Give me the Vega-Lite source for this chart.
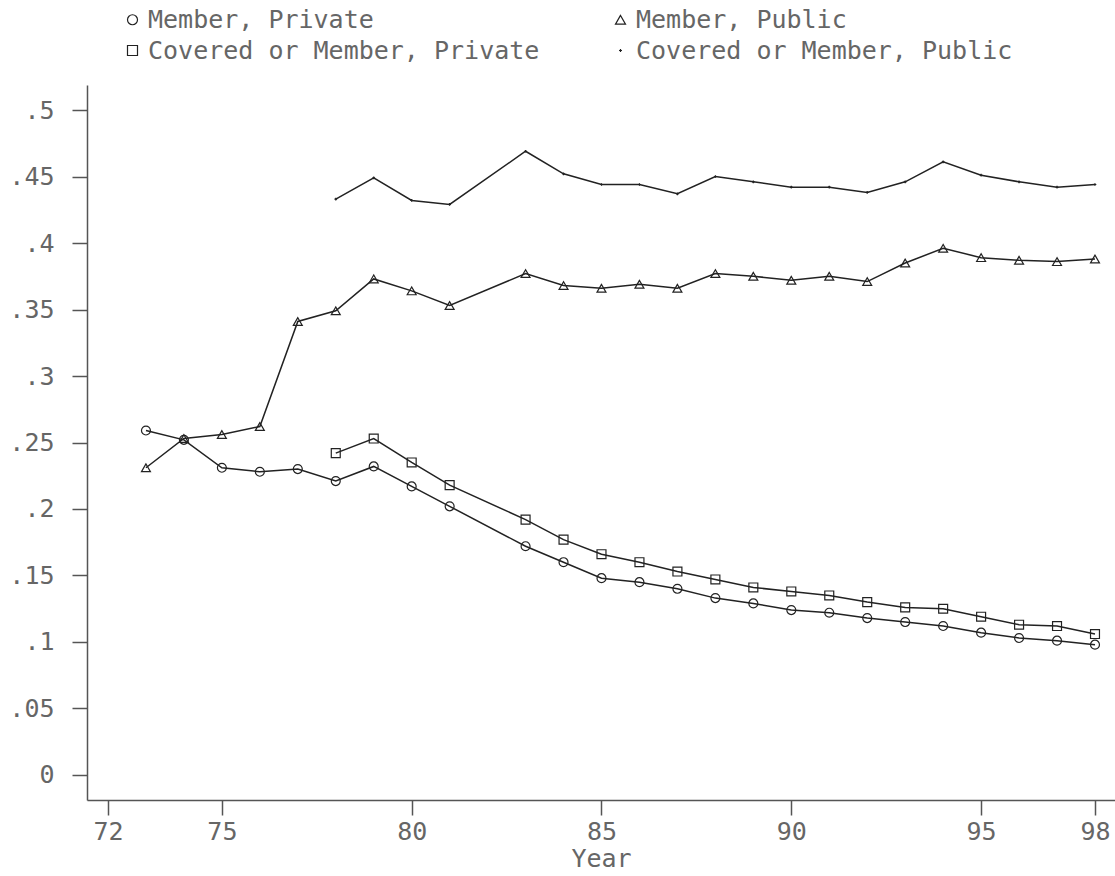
{
  "$schema": "https://vega.github.io/schema/vega-lite/v6.json",
  "width": 1028,
  "height": 715,
  "autosize": {"type": "none"},
  "padding": {"left": 87, "top": 85, "right": 0, "bottom": 76},
  "background": "white",
  "config": {
    "view": {"stroke": null},
    "font": "DejaVu Sans Mono",
    "axis": {
      "domainColor": "#555", "tickColor": "#555", "labelColor": "#666", "titleColor": "#666",
      "labelFont": "DejaVu Sans Mono", "titleFont": "DejaVu Sans Mono",
      "labelFontSize": 25, "titleFontSize": 25, "titleFontWeight": "normal",
      "grid": false, "tickSize": 15, "domainWidth": 1.5, "tickWidth": 1.5
    },
    "legend": {
      "labelFont": "DejaVu Sans Mono", "labelFontSize": 25, "labelColor": "#666", "labelLimit": 0
    }
  },
  "data": {
    "values": [
      {"year": 73, "series": "Member, Private", "value": 0.259},
      {"year": 74, "series": "Member, Private", "value": 0.252},
      {"year": 75, "series": "Member, Private", "value": 0.231},
      {"year": 76, "series": "Member, Private", "value": 0.228},
      {"year": 77, "series": "Member, Private", "value": 0.230},
      {"year": 78, "series": "Member, Private", "value": 0.221},
      {"year": 79, "series": "Member, Private", "value": 0.232},
      {"year": 80, "series": "Member, Private", "value": 0.217},
      {"year": 81, "series": "Member, Private", "value": 0.202},
      {"year": 83, "series": "Member, Private", "value": 0.172},
      {"year": 84, "series": "Member, Private", "value": 0.160},
      {"year": 85, "series": "Member, Private", "value": 0.148},
      {"year": 86, "series": "Member, Private", "value": 0.145},
      {"year": 87, "series": "Member, Private", "value": 0.140},
      {"year": 88, "series": "Member, Private", "value": 0.133},
      {"year": 89, "series": "Member, Private", "value": 0.129},
      {"year": 90, "series": "Member, Private", "value": 0.124},
      {"year": 91, "series": "Member, Private", "value": 0.122},
      {"year": 92, "series": "Member, Private", "value": 0.118},
      {"year": 93, "series": "Member, Private", "value": 0.115},
      {"year": 94, "series": "Member, Private", "value": 0.112},
      {"year": 95, "series": "Member, Private", "value": 0.107},
      {"year": 96, "series": "Member, Private", "value": 0.103},
      {"year": 97, "series": "Member, Private", "value": 0.101},
      {"year": 98, "series": "Member, Private", "value": 0.098},

      {"year": 73, "series": "Member, Public", "value": 0.231},
      {"year": 74, "series": "Member, Public", "value": 0.253},
      {"year": 75, "series": "Member, Public", "value": 0.256},
      {"year": 76, "series": "Member, Public", "value": 0.262},
      {"year": 77, "series": "Member, Public", "value": 0.341},
      {"year": 78, "series": "Member, Public", "value": 0.349},
      {"year": 79, "series": "Member, Public", "value": 0.373},
      {"year": 80, "series": "Member, Public", "value": 0.364},
      {"year": 81, "series": "Member, Public", "value": 0.353},
      {"year": 83, "series": "Member, Public", "value": 0.377},
      {"year": 84, "series": "Member, Public", "value": 0.368},
      {"year": 85, "series": "Member, Public", "value": 0.366},
      {"year": 86, "series": "Member, Public", "value": 0.369},
      {"year": 87, "series": "Member, Public", "value": 0.366},
      {"year": 88, "series": "Member, Public", "value": 0.377},
      {"year": 89, "series": "Member, Public", "value": 0.375},
      {"year": 90, "series": "Member, Public", "value": 0.372},
      {"year": 91, "series": "Member, Public", "value": 0.375},
      {"year": 92, "series": "Member, Public", "value": 0.371},
      {"year": 93, "series": "Member, Public", "value": 0.385},
      {"year": 94, "series": "Member, Public", "value": 0.396},
      {"year": 95, "series": "Member, Public", "value": 0.389},
      {"year": 96, "series": "Member, Public", "value": 0.387},
      {"year": 97, "series": "Member, Public", "value": 0.386},
      {"year": 98, "series": "Member, Public", "value": 0.388},

      {"year": 78, "series": "Covered or Member, Private", "value": 0.242},
      {"year": 79, "series": "Covered or Member, Private", "value": 0.253},
      {"year": 80, "series": "Covered or Member, Private", "value": 0.235},
      {"year": 81, "series": "Covered or Member, Private", "value": 0.218},
      {"year": 83, "series": "Covered or Member, Private", "value": 0.192},
      {"year": 84, "series": "Covered or Member, Private", "value": 0.177},
      {"year": 85, "series": "Covered or Member, Private", "value": 0.166},
      {"year": 86, "series": "Covered or Member, Private", "value": 0.160},
      {"year": 87, "series": "Covered or Member, Private", "value": 0.153},
      {"year": 88, "series": "Covered or Member, Private", "value": 0.147},
      {"year": 89, "series": "Covered or Member, Private", "value": 0.141},
      {"year": 90, "series": "Covered or Member, Private", "value": 0.138},
      {"year": 91, "series": "Covered or Member, Private", "value": 0.135},
      {"year": 92, "series": "Covered or Member, Private", "value": 0.130},
      {"year": 93, "series": "Covered or Member, Private", "value": 0.126},
      {"year": 94, "series": "Covered or Member, Private", "value": 0.125},
      {"year": 95, "series": "Covered or Member, Private", "value": 0.119},
      {"year": 96, "series": "Covered or Member, Private", "value": 0.113},
      {"year": 97, "series": "Covered or Member, Private", "value": 0.112},
      {"year": 98, "series": "Covered or Member, Private", "value": 0.106},

      {"year": 78, "series": "Covered or Member, Public", "value": 0.433},
      {"year": 79, "series": "Covered or Member, Public", "value": 0.449},
      {"year": 80, "series": "Covered or Member, Public", "value": 0.432},
      {"year": 81, "series": "Covered or Member, Public", "value": 0.429},
      {"year": 83, "series": "Covered or Member, Public", "value": 0.469},
      {"year": 84, "series": "Covered or Member, Public", "value": 0.452},
      {"year": 85, "series": "Covered or Member, Public", "value": 0.444},
      {"year": 86, "series": "Covered or Member, Public", "value": 0.444},
      {"year": 87, "series": "Covered or Member, Public", "value": 0.437},
      {"year": 88, "series": "Covered or Member, Public", "value": 0.450},
      {"year": 89, "series": "Covered or Member, Public", "value": 0.446},
      {"year": 90, "series": "Covered or Member, Public", "value": 0.442},
      {"year": 91, "series": "Covered or Member, Public", "value": 0.442},
      {"year": 92, "series": "Covered or Member, Public", "value": 0.438},
      {"year": 93, "series": "Covered or Member, Public", "value": 0.446},
      {"year": 94, "series": "Covered or Member, Public", "value": 0.461},
      {"year": 95, "series": "Covered or Member, Public", "value": 0.451},
      {"year": 96, "series": "Covered or Member, Public", "value": 0.446},
      {"year": 97, "series": "Covered or Member, Public", "value": 0.442},
      {"year": 98, "series": "Covered or Member, Public", "value": 0.444}
    ]
  },
  "encoding": {
    "x": {
      "field": "year", "type": "quantitative",
      "scale": {"domain": [71.447, 98.527], "nice": false, "zero": false},
      "axis": {"values": [72, 75, 80, 85, 90, 95, 98], "format": "d", "title": "Year", "labelPadding": 4, "titlePadding": 2, "labelFlush": false}
    },
    "y": {
      "field": "value", "type": "quantitative",
      "scale": {"domain": [-0.0188, 0.5188], "nice": false, "zero": false},
      "axis": {"values": [0, 0.05, 0.1, 0.15, 0.2, 0.25, 0.3, 0.35, 0.4, 0.45, 0.5], "labelExpr": "replace(format(datum.value, '.2~f'), '0.', '.')", "title": null, "labelPadding": 18, "labelFlush": false}
    }
  },
  "layer": [
    {
      "mark": {"type": "line", "color": "#222", "strokeWidth": 1.5},
      "encoding": {"detail": {"field": "series", "type": "nominal"}}
    },
    {
      "mark": {"type": "point", "filled": false, "color": "#222", "strokeWidth": 1.2, "opacity": 1, "size": 80},
      "encoding": {
        "shape": {
          "field": "series", "type": "nominal",
          "scale": {
            "domain": ["Member, Private", "Covered or Member, Private", "Member, Public", "Covered or Member, Public"],
            "range": ["circle", "square", "triangle-up", "M-0.3,0H0.3M0,-0.3V0.3"]
          },
          "legend": {
            "title": null, "orient": "none", "legendX": 33, "legendY": -78,
            "columns": 2, "columnPadding": 68, "rowPadding": 5,
            "labelOffset": 3, "symbolStrokeWidth": 1.2, "symbolStrokeColor": "#222", "symbolFillColor": "transparent"
          }
        }
      }
    }
  ]
}
